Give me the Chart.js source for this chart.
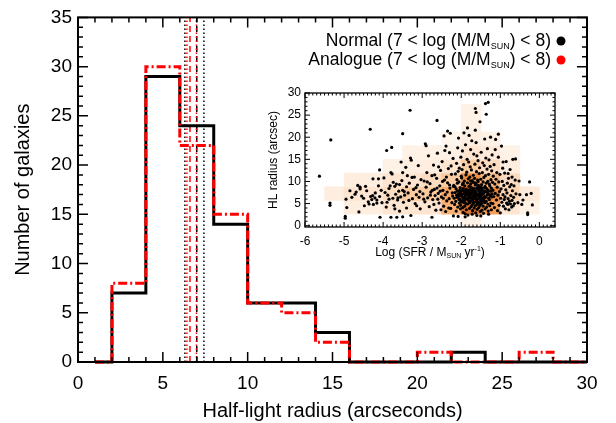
<!DOCTYPE html>
<html lang="en">
<head>
<meta charset="UTF-8"/>
<title>Half-light radius distribution</title>
<script src="https://cdn.jsdelivr.net/npm/chart.js"></script>
<style>
  body { margin: 0; background: #fff; }
  .wrap { position: relative; width: 616px; height: 423px; }
  #mainChart { position: absolute; left: 0; top: 0; }
  #insetChart { position: absolute; left: 240px; top: 80px; }
</style>
</head>
<body>
<div class="wrap">
  <canvas id="mainChart" width="616" height="423"></canvas>
  <canvas id="insetChart" width="330" height="185"></canvas>
</div>
<script>
const FONT = "'Liberation Sans', Arial, Helvetica, sans-serif";

// --- main histogram (half-light radius, arcsec) ---
const binEdges = [1, 2, 4, 6, 8, 10, 12, 14, 16, 18, 20, 22, 24, 26, 28, 30];
const normalCounts   = [0, 7, 29, 24, 14, 6, 6, 3, 0, 0, 0, 1, 0, 0, 0];
const analogueCounts = [0, 8, 30, 22, 15, 6, 5, 2, 0, 0, 1, 0, 0, 1, 0];
// marker lines: [lower, median, upper]
const normalMarks   = [6.3, 7.0, 7.42];
const analogueMarks = [6.42, 6.6, 6.98];
const xTicks = [0, 5, 10, 15, 20, 25, 30];
const yTicks = [0, 5, 10, 15, 20, 25, 30, 35];
const legendNames = ['Normal', 'Analogue'];

// --- inset: log SFR vs HL radius ---
const sfrEdges = [-5.5, -5, -4.5, -4, -3.5, -3, -2.5, -2, -1.5, -1, -0.5, 0];
const radEdges = [-0.5, 2.6, 5.7, 8.8, 11.9, 15.0, 18.1, 21.2, 24.3, 27.4];
// density level per SFR column (rows bottom -> top)
const density = [
  [0, 0, 0.1, 0, 0, 0, 0, 0, 0],
  [0, 0.1, 0.15, 0.1, 0, 0, 0, 0, 0],
  [0, 0.1, 0.15, 0.1, 0, 0, 0, 0, 0],
  [0, 0.15, 0.2, 0.15, 0.08, 0, 0, 0, 0],
  [0, 0.15, 0.3, 0.15, 0.1, 0.08, 0, 0, 0],
  [0, 0.15, 0.3, 0.2, 0.1, 0.08, 0, 0, 0],
  [0, 0.45, 0.5, 0.3, 0.15, 0.08, 0.06, 0, 0],
  [0.08, 0.8, 1.0, 0.65, 0.3, 0.15, 0.1, 0.08, 0.08],
  [0, 0.55, 0.7, 0.4, 0.2, 0.12, 0.08, 0, 0],
  [0, 0.15, 0.25, 0.2, 0.1, 0.08, 0, 0, 0],
  [0, 0.08, 0.12, 0, 0, 0, 0, 0, 0]
];
const insetXTicks = [-6, -5, -4, -3, -2, -1, 0];
const insetYTicks = [0, 5, 10, 15, 20, 25, 30];
const galaxyPoints = [
  // low SFR tail
  [-5.63,11.2],[-5.34,19.4],[-5.36,5.1],[-5.36,4.6],[-4.97,2.1],[-4.97,1.7],[-4.93,4.1],[-4.95,6.0],[-4.62,3.1],
  [-4.72,7.1],[-4.69,7.6],[-4.59,8.3],[-4.55,6.7],[-4.45,8.9],[-4.59,8.7],[-4.38,5.4],[-4.32,6.6],[-4.27,6.8],
  [-4.29,5.9],[-4.21,6.3],[-4.16,5.1],[-4.16,5.8],[-4.09,6.6],[-4.33,21.8],[-4.26,10.6],[-4.12,10.6],[-4.09,12.6],
  [-4.08,1.9],[-4.5,6.2],[-4.42,7.9],[-4.8,6.4],[-4.85,7.9],[-4.65,9.1],[-4.25,4.8],[-4.05,8.0],[-4.12,9.0],
  [-4.48,4.5],[-4.36,4.9],[-4.2,7.4],[-4.03,5.2],
  [-3.91,17.0],[-3.78,17.7],[-3.5,20.8],[-3.31,26.1],[-3.54,14.4],[-3.8,1.9],[-3.65,1.9],[-3.5,2.0],[-3.95,7.5],
  [-3.9,5.3],[-3.88,6.9],[-3.85,8.4],[-3.82,9.0],[-3.8,12.0],[-3.77,11.7],[-3.75,6.2],[-3.72,4.6],[-3.7,8.9],
  [-3.68,7.1],[-3.66,9.4],[-3.63,5.8],[-3.6,7.8],[-3.58,3.3],[-3.55,6.5],[-3.52,10.2],[-3.5,8.0],[-3.48,5.3],
  [-3.45,6.9],[-3.42,13.2],[-3.4,4.0],[-3.38,11.3],[-3.36,7.4],[-3.33,9.6],[-3.3,15.3],[-3.28,14.8],[-3.25,6.1],
  [-3.22,8.2],[-3.2,11.0],[-3.18,5.0],[-3.15,7.0],[-3.12,9.2],[-3.1,13.6],[-3.08,6.4],[-3.05,3.8],[-3.03,10.4],
  [-3.98,10.8],[-3.92,4.2],[-3.74,9.8],[-3.62,6.3],[-3.46,7.7],[-3.34,5.7],[-3.26,10.9],[-3.16,8.6],[-3.06,7.7],
  [-3.29,2.3],[-3.58,9.3],[-3.85,6.0],[-3.4,8.8],[-3.14,4.5],[-3.7,3.8],[-3.5,12.0],
  [-2.92,18.5],[-2.62,23.8],[-2.75,1.9],[-2.9,18.1],[-2.98,7.2],[-2.95,10.1],[-2.93,5.4],[-2.9,8.7],[-2.88,12.0],
  [-2.86,6.3],[-2.84,15.8],[-2.82,4.3],[-2.8,9.5],[-2.78,7.6],[-2.75,11.3],[-2.73,5.9],[-2.71,13.7],[-2.69,8.2],
  [-2.67,6.8],[-2.65,3.5],[-2.63,10.7],[-2.61,16.4],[-2.59,7.3],[-2.57,5.1],[-2.55,9.0],[-2.53,12.5],[-2.51,6.5],
  [-2.49,14.5],[-2.47,8.0],[-2.45,4.4],[-2.43,10.3],[-2.41,7.0],[-2.39,18.0],[-2.37,5.6],[-2.35,9.7],[-2.33,12.9],
  [-2.31,6.1],[-2.29,8.5],[-2.27,3.9],[-2.25,11.6],[-2.23,7.4],[-2.21,15.2],[-2.96,6.0],[-2.87,9.9],[-2.79,6.9],
  [-2.7,4.8],[-2.62,8.5],[-2.54,7.8],[-2.46,6.2],[-2.38,11.0],[-2.3,9.2],[-2.24,5.2],[-2.44,20.3],[-2.35,21.4],
  [-2.28,20.9],[-2.58,13.3],[-2.68,11.5],[-2.52,3.6],[-2.4,3.2],[-2.32,4.0],[-2.26,13.5],[-2.48,10.0],[-2.6,6.0],
  [-2.74,8.0],[-2.36,7.6],[-2.22,6.7],[-2.2,8.9],[-2.2,2.2],[-2.3,16.5],[-2.42,17.0],
  // main clump
  [-2.18,6.2],[-2.16,7.5],[-2.19,9.1],[-2.17,4.8],[-2.15,11.7],[-2.13,8.3],
  [-2.14,5.5],[-2.12,6.9],[-2.16,8.8],[-2.11,10.4],[-2.13,3.3],[-2.1,7.8],[-2.12,14.1],
  [-2.09,4.2],[-2.11,6.4],[-2.07,7.2],[-2.1,9.6],[-2.08,12.3],[-2.06,5.9],[-2.09,17.6],
  [-2.05,5.1],[-2.07,6.6],[-2.04,8.0],[-2.06,9.9],[-2.08,2.1],[-2.03,7.4],[-2.05,13.0],[-2.07,19.8],
  [-2.02,4.6],[-2.04,6.0],[-2.01,7.7],[-2.03,8.6],[-2.0,11.2],[-2.02,3.8],[-2.01,15.5],
  [-1.99,5.3],[-2.0,6.8],[-1.98,7.1],[-1.97,9.3],[-1.99,10.8],[-1.96,4.1],[-1.98,12.7],[-1.97,16.9],
  [-1.95,3.0],[-1.96,5.7],[-1.94,6.3],[-1.93,7.9],[-1.95,8.4],[-1.92,10.1],[-1.94,13.8],[-1.93,21.0],
  [-1.91,4.4],[-1.92,5.2],[-1.9,6.7],[-1.89,7.6],[-1.91,9.0],[-1.88,11.5],[-1.9,2.7],[-1.89,18.3],
  [-1.87,3.6],[-1.88,5.0],[-1.86,6.1],[-1.85,7.0],[-1.87,8.2],[-1.84,9.7],[-1.86,12.1],[-1.85,15.0],[-1.84,22.1],
  [-1.83,2.4],[-1.84,4.9],[-1.82,5.8],[-1.81,6.9],[-1.83,7.4],[-1.8,8.9],[-1.82,10.6],[-1.81,14.4],[-1.8,20.4],
  [-1.79,3.9],[-1.8,5.4],[-1.78,6.5],[-1.77,7.3],[-1.79,8.1],[-1.76,9.4],[-1.78,11.0],[-1.77,13.3],[-1.76,17.2],
  [-1.75,4.3],[-1.76,5.6],[-1.74,6.2],[-1.73,7.8],[-1.75,8.7],[-1.72,10.2],[-1.74,12.6],[-1.73,19.2],[-1.72,2.6],
  [-1.71,3.4],[-1.72,4.7],[-1.7,5.9],[-1.69,6.6],[-1.71,7.5],[-1.68,8.4],[-1.7,9.8],[-1.69,11.4],[-1.68,16.2],
  [-1.67,4.0],[-1.68,5.1],[-1.66,6.4],[-1.65,7.1],[-1.67,8.0],[-1.64,9.2],[-1.66,10.7],[-1.65,13.9],[-1.64,21.6],
  [-1.63,2.9],[-1.64,4.5],[-1.62,5.5],[-1.61,6.8],[-1.63,7.7],[-1.6,8.5],[-1.62,9.5],[-1.61,12.2],[-1.6,15.8],[-1.62,18.8],
  [-1.59,3.7],[-1.6,4.8],[-1.58,6.0],[-1.57,7.2],[-1.59,8.3],[-1.56,9.1],[-1.58,10.3],[-1.57,14.7],
  [-1.55,4.1],[-1.56,5.3],[-1.54,6.3],[-1.53,7.0],[-1.55,7.9],[-1.52,8.8],[-1.54,11.8],[-1.53,13.1],[-1.52,23.5],
  [-1.51,3.2],[-1.52,4.6],[-1.5,5.7],[-1.49,6.7],[-1.51,7.6],[-1.48,9.3],[-1.5,10.5],[-1.49,16.6],[-1.64,26.5],
  [-1.47,3.5],[-1.48,5.0],[-1.46,6.1],[-1.45,7.4],[-1.47,8.2],[-1.44,9.9],[-1.46,12.0],[-1.45,14.2],[-1.62,25.6],
  [-1.43,2.8],[-1.44,4.4],[-1.42,5.8],[-1.41,6.6],[-1.43,7.3],[-1.4,8.6],[-1.42,10.9],[-1.41,13.6],[-1.4,19.6],
  [-1.39,3.8],[-1.4,5.2],[-1.38,6.4],[-1.37,7.7],[-1.39,8.9],[-1.36,9.6],[-1.38,11.3],[-1.37,15.3],
  [-1.35,4.2],[-1.36,5.5],[-1.34,6.9],[-1.33,7.5],[-1.35,8.4],[-1.32,10.0],[-1.34,12.8],[-1.33,17.4],
  [-1.31,3.3],[-1.32,4.9],[-1.3,6.2],[-1.29,7.1],[-1.31,8.0],[-1.28,9.4],[-1.3,11.6],[-1.29,14.9],
  [-1.27,4.5],[-1.28,5.9],[-1.26,6.8],[-1.25,7.8],[-1.27,9.0],[-1.24,10.4],[-1.26,13.4],[-1.25,20.0],
  [-1.23,3.6],[-1.24,5.1],[-1.22,6.5],[-1.21,7.2],[-1.23,8.5],[-1.2,9.8],[-1.22,12.4],[-1.21,16.0],
  [-1.38,27.6],[-1.31,27.9],[-1.36,25.2],[-1.6,2.3],[-1.5,2.2],[-1.9,2.0],[-1.3,2.6],
  [-1.98,6.5],[-1.93,7.3],[-1.88,6.0],[-1.85,8.0],[-1.8,7.7],[-1.77,6.4],[-1.74,7.0],[-1.7,8.1],[-1.67,6.9],
  [-1.64,7.5],[-1.61,5.9],[-1.58,8.6],[-1.55,6.6],[-1.52,7.4],[-1.49,5.4],[-1.46,8.0],[-1.43,6.3],[-1.97,8.0],
  [-1.92,5.6],[-1.87,7.0],[-1.82,6.3],[-1.78,5.2],[-1.73,8.5],[-1.69,5.3],[-1.66,7.9],[-1.63,6.1],[-1.59,7.0],
  [-1.56,5.0],[-1.53,8.3],[-1.5,6.4],[-1.47,7.1],[-1.44,5.6],[-1.41,7.8],[-2.01,5.6],[-2.04,7.0],[-1.95,9.6],
  [-1.76,10.1],[-1.65,9.7],[-1.57,10.0],[-1.48,8.6],
  // high SFR side
  [-1.19,5.0],[-1.19,8.0],[-1.18,11.2],[-1.17,6.6],[-1.16,13.8],[-1.15,4.1],[-1.14,9.4],[-1.13,7.3],[-1.12,19.5],
  [-1.11,10.5],[-1.1,5.8],[-1.09,12.0],[-1.08,8.7],[-1.07,3.4],[-1.06,6.9],[-1.05,15.5],[-1.04,9.9],[-1.03,4.6],
  [-1.02,7.7],[-1.01,11.6],[-1.0,2.9],[-0.99,6.2],[-0.98,8.3],[-0.97,18.0],[-0.96,5.3],[-0.95,10.0],[-0.94,13.0],
  [-0.93,7.0],[-0.92,4.4],[-0.91,9.1],[-0.9,5.9],[-0.89,11.9],[-0.88,6.5],[-0.87,3.8],[-0.86,8.1],[-0.85,14.5],
  [-0.84,5.1],[-0.83,7.4],[-0.82,9.6],[-0.81,4.8],[-0.8,6.1],[-0.79,10.7],[-0.78,3.6],[-0.77,5.5],[-0.76,8.8],
  [-0.75,12.7],[-0.74,4.9],[-0.73,6.8],[-0.72,9.3],[-0.71,4.2],[-0.7,5.7],[-0.69,7.9],[-0.68,15.0],[-0.67,4.5],
  [-0.66,6.4],[-0.65,9.0],[-0.64,5.0],[-0.62,10.3],[-0.61,15.1],[-0.6,7.2],[-0.52,10.1],[-0.55,5.2],[-0.5,7.0],
  [-0.45,4.8],[-0.42,5.8],[-0.33,7.0],[-0.3,2.9],[-0.3,2.5],[-0.25,9.9],[-0.21,7.3],[-0.18,4.7],[-1.05,20.7],
  [-1.13,17.2],[-0.93,14.4],[-0.8,11.8],[-0.7,11.0]
];

// step line: value of each bin held from its left edge
function stepData(counts) {
  return binEdges.map((e, i) => ({ x: e, y: counts[Math.min(i, counts.length - 1)] }));
}
function markLine(x, color, dash, order) {
  return { data: [{ x: x, y: 0 }, { x: x, y: 35 }], borderColor: color, borderWidth: 1.5,
           borderDash: dash, pointRadius: 0, order: order, clip: false };
}

// peach -> dark orange ramp for the density cells
function densityColor(v) {
  const stops = [[0, 255, 255, 255], [0.5, 248, 168, 100], [1, 205, 80, 5]];
  let a = stops[0], b = stops[1];
  if (v > 0.5) { a = stops[1]; b = stops[2]; }
  const t = (v - a[0]) / (b[0] - a[0]);
  const c = [1, 2, 3].map(k => Math.round(a[k] + (b[k] - a[k]) * t));
  return `rgb(${c[0]},${c[1]},${c[2]})`;
}
const cells = [];
density.forEach((col, i) => {
  col.forEach((v, j) => {
    if (v > 0) cells.push({ x: (sfrEdges[i] + sfrEdges[i + 1]) / 2, y: [radEdges[j], radEdges[j + 1]], v: v });
  });
});

// box frame with inward major/minor ticks on all four sides
function frameTicks(o) {
  return {
    id: 'frameTicks',
    afterDatasetsDraw(chart) {
      const { ctx, chartArea: a, scales: { x, y } } = chart;
      ctx.save();
      ctx.strokeStyle = '#000';
      ctx.lineWidth = o.lw;
      ctx.strokeRect(a.left, a.top, a.right - a.left, a.bottom - a.top);
      ctx.lineWidth = o.tw;
      ctx.beginPath();
      for (let i = Math.ceil(x.min / o.xMinor - 1e-6); i * o.xMinor <= x.max + 1e-6; i++) {
        const v = i * o.xMinor, p = x.getPixelForValue(v);
        const big = Math.abs(v / o.xMajor - Math.round(v / o.xMajor)) < 1e-6;
        const len = big ? o.major : o.minor;
        ctx.moveTo(p, a.bottom); ctx.lineTo(p, a.bottom - len);
        ctx.moveTo(p, a.top); ctx.lineTo(p, a.top + len);
      }
      for (let i = Math.ceil(y.min / o.yMinor - 1e-6); i * o.yMinor <= y.max + 1e-6; i++) {
        const v = i * o.yMinor, p = y.getPixelForValue(v);
        const big = Math.abs(v / o.yMajor - Math.round(v / o.yMajor)) < 1e-6;
        const len = big ? o.major : o.minor;
        ctx.moveTo(a.left, p); ctx.lineTo(a.left + len, p);
        ctx.moveTo(a.right, p); ctx.lineTo(a.right - len, p);
      }
      ctx.stroke();
      ctx.restore();
    }
  };
}

// text with sub/superscripts: parts = [text, size, dy]
function drawRich(ctx, parts, x, y, align) {
  let w = 0;
  parts.forEach(p => { ctx.font = p[1] + 'px ' + FONT; w += ctx.measureText(p[0]).width; });
  let cx = align === 'right' ? x - w : (align === 'center' ? x - w / 2 : x);
  ctx.textAlign = 'left';
  ctx.textBaseline = 'alphabetic';
  parts.forEach(p => {
    ctx.font = p[1] + 'px ' + FONT;
    ctx.fillText(p[0], cx, y + p[2]);
    cx += ctx.measureText(p[0]).width;
  });
}

const legendPlugin = {
  id: 'massLegend',
  afterDraw(chart) {
    const ctx = chart.ctx;
    const colors = ['#000', '#ff0000'];
    ctx.save();
    ctx.fillStyle = '#000';
    legendNames.forEach((name, i) => {
      const base = 46 + i * 19;
      drawRich(ctx, [[name + ' (7 < log (M/M', 17.5, 0], ['SUN', 9, 3], [') < 8)', 17.5, 0]], 551, base, 'right');
      ctx.beginPath();
      ctx.fillStyle = colors[i];
      ctx.arc(561, base - 5, 4.5, 0, Math.PI * 2);
      ctx.fill();
      ctx.fillStyle = '#000';
    });
    ctx.restore();
  }
};

const insetTitlePlugin = {
  id: 'insetTitle',
  afterDraw(chart) {
    const ctx = chart.ctx, a = chart.chartArea;
    ctx.save();
    ctx.fillStyle = '#000';
    drawRich(ctx, [['Log (SFR / M', 12, 0], ['SUN', 7, 2], [' yr', 12, 0], ['-1', 7, -5], [')', 12, 0]],
      (a.left + a.right) / 2, 176, 'center');
    ctx.restore();
  }
};

new Chart(document.getElementById('mainChart'), {
  type: 'line',
  data: {
    datasets: [
      { data: stepData(analogueCounts), stepped: 'before', borderColor: '#ff0000', borderWidth: 3,
        borderDash: [9, 3, 2, 3], pointRadius: 0, order: 0, clip: false },
      { data: stepData(normalCounts), stepped: 'before', borderColor: '#000', borderWidth: 3,
        pointRadius: 0, order: 1, clip: false },
      markLine(normalMarks[0], '#000', [1.5, 2.5], 3),
      markLine(normalMarks[1], '#000', [6, 4], 3),
      markLine(normalMarks[2], '#000', [1.5, 2.5], 3),
      markLine(analogueMarks[0], '#ff0000', [1.5, 2.5], 2),
      markLine(analogueMarks[1], '#ff0000', [6, 4], 2),
      markLine(analogueMarks[2], '#ff0000', [1.5, 2.5], 2)
    ]
  },
  options: {
    responsive: false,
    animation: false,
    layout: { padding: { top: 9, right: 29, left: 0, bottom: 0 } },
    plugins: { legend: { display: false }, tooltip: { enabled: false } },
    scales: {
      x: {
        type: 'linear', min: 0, max: 30,
        afterBuildTicks: s => { s.ticks = xTicks.map(v => ({ value: v })); },
        afterFit: s => { s.height = 61; },
        grid: { display: false, drawTicks: false }, border: { display: false },
        ticks: { font: { family: FONT, size: 19 }, color: '#000', padding: 10, maxRotation: 0, autoSkip: false },
        title: { display: true, text: 'Half-light radius (arcseconds)', color: '#000',
                 font: { family: FONT, size: 20 }, padding: { top: 6, bottom: 0 } }
      },
      y: {
        type: 'linear', min: 0, max: 35,
        afterBuildTicks: s => { s.ticks = yTicks.map(v => ({ value: v })); },
        afterFit: s => { s.width = 78; },
        grid: { display: false, drawTicks: false }, border: { display: false },
        ticks: { font: { family: FONT, size: 19 }, color: '#000', padding: 6, autoSkip: false },
        title: { display: true, text: 'Number of galaxies', color: '#000',
                 font: { family: FONT, size: 20 }, padding: { top: 11, bottom: 0 } }
      }
    }
  },
  plugins: [frameTicks({ lw: 2, tw: 1.5, major: 10, minor: 5, xMajor: 5, xMinor: 1, yMajor: 5, yMinor: 1 }), legendPlugin]
});

new Chart(document.getElementById('insetChart'), {
  type: 'scatter',
  data: {
    datasets: [
      { data: galaxyPoints.map(p => ({ x: p[0], y: p[1] })), backgroundColor: '#000', borderWidth: 0,
        pointRadius: 1.6, order: 0 },
      { type: 'bar', data: cells, backgroundColor: cells.map(c => densityColor(c.v)), borderWidth: 0,
        barPercentage: 1, categoryPercentage: 1, order: 1 }
    ]
  },
  options: {
    responsive: false,
    animation: false,
    layout: { padding: { top: 13, right: 15, left: 0, bottom: 0 } },
    plugins: { legend: { display: false }, tooltip: { enabled: false } },
    scales: {
      x: {
        type: 'linear', min: -6, max: 0.4, offset: false,
        afterBuildTicks: s => { s.ticks = insetXTicks.map(v => ({ value: v })); },
        afterFit: s => { s.height = 38; },
        grid: { display: false, drawTicks: false }, border: { display: false },
        ticks: { font: { family: FONT, size: 12 }, color: '#000', padding: 7, maxRotation: 0, autoSkip: false }
      },
      y: {
        type: 'linear', min: -0.3, max: 30,
        afterBuildTicks: s => { s.ticks = insetYTicks.map(v => ({ value: v })); },
        afterFit: s => { s.width = 65; },
        grid: { display: false, drawTicks: false }, border: { display: false },
        ticks: { font: { family: FONT, size: 12 }, color: '#000', padding: 4, autoSkip: false },
        title: { display: true, text: 'HL radius (arcsec)', color: '#000',
                 font: { family: FONT, size: 12 }, padding: { top: 26, bottom: 0 } }
      }
    }
  },
  plugins: [frameTicks({ lw: 1.3, tw: 1, major: 5, minor: 2.5, xMajor: 1, xMinor: 0.1, yMajor: 5, yMinor: 1 }), insetTitlePlugin]
});
</script>
</body>
</html>
